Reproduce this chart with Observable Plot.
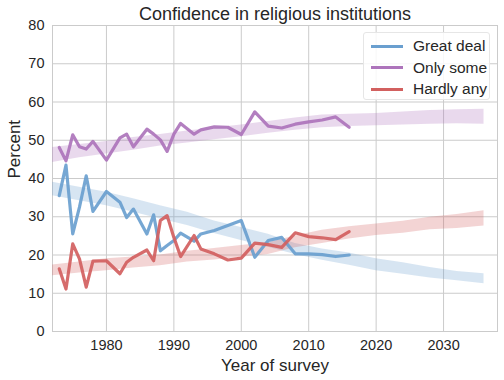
<!DOCTYPE html>
<html>
<head>
<meta charset="utf-8">
<script src="https://cdn.jsdelivr.net/npm/d3@7"></script>
<script src="https://cdn.jsdelivr.net/npm/@observablehq/plot@0.6"></script>
<style>
  html, body { margin: 0; padding: 0; background: #fff; }
  #wrap { position: relative; width: 504px; height: 380px; font-family: "Liberation Sans", Arial, sans-serif; }
  #legend { position: absolute; left: 363px; top: 32px; width: 127px; height: 68px; background: rgba(255,255,255,0.85);
            border: 1px solid #e6e6e6; border-radius: 3px; box-sizing: border-box; }
  .row { position: absolute; left: 0; height: 20px; display: flex; align-items: center; font-size: 15.5px; color: #262626; }
  .sw { width: 32px; height: 3px; margin-left: 7px; margin-right: 10px; }
</style>
</head>
<body>
<div id="wrap"></div>
<script>
const years = [1973,1974,1975,1976,1977,1978,1980,1982,1983,1984,1986,1987,1988,1989,1990,1991,1993,1994,1996,1998,2000,2002,2004,2006,2008,2010,2012,2014,2016];
const greatDeal = [35.5,43.5,25.5,32.5,40.7,31.4,36.6,33.8,29.8,32.0,25.5,30.5,21.1,22.5,23.8,25.7,23.6,25.5,26.4,27.7,29.0,19.4,23.8,24.6,20.3,20.3,20.1,19.6,20.0];
const onlySome = [48.1,44.6,51.4,48.3,47.7,49.7,44.8,50.6,51.6,48.3,52.9,51.6,50.1,47.1,51.6,54.4,51.6,52.7,53.5,53.4,51.5,57.4,53.7,53.2,54.2,54.8,55.3,56.1,53.4];
const hardlyAny = [16.4,11.1,22.9,19.0,11.6,18.4,18.5,15.1,18.1,19.4,21.3,18.5,29.0,30.3,24.6,19.6,25.1,21.6,20.3,18.7,19.2,23.1,22.7,22.0,25.8,24.8,24.5,24.0,26.1];

const bandYears = [1972,1976,1980,1984,1988,1992,1996,2000,2004,2008,2012,2016,2020,2024,2028,2032,2036];
const greatLo = [35.5,34.2,32.9,31.2,29.4,27.7,25.6,23.8,22.0,20.1,18.6,17.3,15.9,15.0,14.0,13.3,12.5];
const greatHi = [39.0,37.7,36.4,34.7,32.9,31.2,28.9,27.2,25.4,23.0,21.6,20.5,19.0,18.0,16.7,15.7,15.1];
const someLo  = [44.2,45.4,46.4,47.4,48.5,49.3,50.1,50.9,51.8,52.6,53.3,53.6,53.8,54.0,54.2,54.3,54.2];
const someHi  = [48.1,48.9,49.7,50.7,51.5,52.4,53.2,54.0,54.9,55.8,56.6,56.8,57.0,57.4,57.8,58.0,58.1];
const hardLo  = [14.6,15.3,15.9,16.6,17.2,18.2,18.7,19.4,20.1,21.9,23.0,24.2,25.1,25.7,26.6,26.9,27.6];
const hardHi  = [17.4,18.2,19.0,19.5,20.0,21.0,21.7,22.5,23.2,25.0,26.5,27.4,28.1,28.8,29.9,30.6,31.6];

const seriesNames = ["Great deal", "Only some", "Hardly any"];
const colors = ["#6a9fcf", "#ad74bb", "#d2605f"];
const xTicks = [1980,1990,2000,2010,2020,2030];
const yTicks = [0,10,20,30,40,50,60,70,80];
const title = "Confidence in religious institutions";
const xLabel = "Year of survey";
const yLabel = "Percent";

const lineVals = [greatDeal, onlySome, hardlyAny];
const bandLo = [greatLo, someLo, hardLo];
const bandHi = [greatHi, someHi, hardHi];

const lines = [];
seriesNames.forEach((s, i) => years.forEach((y, j) => lines.push({series: s, year: y, value: lineVals[i][j]})));
const bands = [];
seriesNames.forEach((s, i) => bandYears.forEach((y, j) => bands.push({series: s, year: y, lo: bandLo[i][j], hi: bandHi[i][j]})));

const color = {domain: seriesNames, range: colors};
const font = "Liberation Sans, Arial, sans-serif";

const chart = Plot.plot({
  width: 504, height: 380,
  marginLeft: 52, marginRight: 7, marginTop: 25, marginBottom: 49,
  style: {fontFamily: font, background: "#fff"},
  x: {domain: [1972, 2038], label: null},
  y: {domain: [0, 80], label: null},
  color,
  marks: [
    Plot.gridX(xTicks, {stroke: "#cbcbcb", strokeOpacity: 1, strokeWidth: 1}),
    Plot.gridY(yTicks, {stroke: "#cbcbcb", strokeOpacity: 1, strokeWidth: 1}),
    Plot.frame({stroke: "#cbcbcb"}),
    Plot.areaY(bands, {x: "year", y1: "lo", y2: "hi", fill: "series", fillOpacity: 0.27, z: "series"}),
    Plot.lineY(lines, {x: "year", y: "value", stroke: "series", strokeWidth: 3.2, strokeOpacity: 0.92, z: "series"}),
    Plot.axisX(xTicks, {tickSize: 0, tickPadding: 8, fontSize: 14.5, fill: "#262626", tickFormat: d => String(d), label: null}),
    Plot.axisY(yTicks, {tickSize: 0, tickPadding: 8, fontSize: 14.5, fill: "#262626", label: null}),
    Plot.text([xLabel], {frameAnchor: "bottom", dy: 39, fontSize: 17, fill: "#262626"}),
    Plot.text([yLabel], {frameAnchor: "left", dx: -38, rotate: -90, fontSize: 17, fill: "#262626"}),
    Plot.text([title], {frameAnchor: "top", lineAnchor: "middle", dy: -11, fontSize: 18, fill: "#262626"})
  ]
});
const wrap = document.getElementById("wrap");
wrap.appendChild(chart);

const legend = document.createElement("div");
legend.id = "legend";
seriesNames.forEach((s, i) => {
  const row = document.createElement("div");
  row.className = "row";
  row.style.top = (3 + i * 21.5) + "px";
  const sw = document.createElement("span");
  sw.className = "sw";
  sw.style.background = colors[i];
  row.appendChild(sw);
  row.appendChild(document.createTextNode(s));
  legend.appendChild(row);
});
wrap.appendChild(legend);
</script>
</body>
</html>
